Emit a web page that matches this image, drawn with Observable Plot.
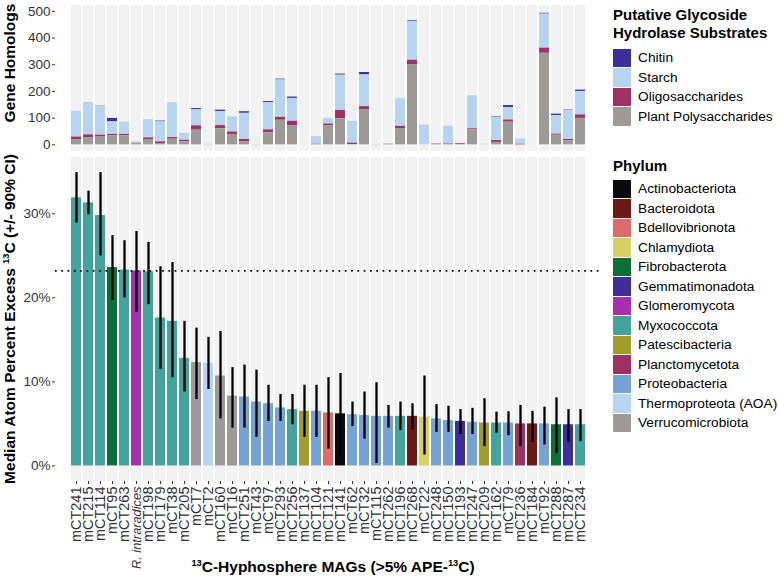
<!DOCTYPE html>
<html><head><meta charset="utf-8">
<script src="https://cdn.jsdelivr.net/npm/d3@7"></script>
<script src="https://cdn.jsdelivr.net/npm/@observablehq/plot@0.6"></script>
<style>
body{margin:0;background:#fff;}
#chart{position:relative;width:778px;height:577px;font-family:"Liberation Sans",Arial,Helvetica,sans-serif;color:#000;overflow:hidden}
.ytitle{position:absolute;transform:translate(-50%,-50%) rotate(-90deg);white-space:nowrap;font-weight:bold;font-size:15.5px;line-height:17px}
.xtitle{position:absolute;transform:translate(-50%,-50%);white-space:nowrap;font-weight:bold;font-size:15.5px;line-height:17px}
sup{font-size:0.6em;vertical-align:0.6em;line-height:0}
.lgtitle{position:absolute;font-weight:bold;font-size:15px;line-height:18px;white-space:nowrap}
.lgrow{position:absolute;height:19.5px;white-space:nowrap;font-size:13.7px}
.lgrow .sw{position:absolute;left:0;top:0.5px;width:18px;height:18.5px}
.lgrow .tx{position:absolute;left:25px;top:0;line-height:19.5px}
svg [aria-label="y-axis tick label"], svg [aria-label="x-axis tick label"]{fill:#333}
svg [aria-label="y-axis tick"], svg [aria-label="x-axis tick"]{stroke:#333}
</style></head><body><div id="chart"></div>
<script>
// ---------- data ----------
const mags = ["mCT241","mCT215","mCT114","mCT95","mCT263","R. intraradices","mCT198","mCT179","mCT38","mCT205","mCT7","mCT2","mCT160","mCT16","mCT251","mCT43","mCT97","mCT293","mCT256","mCT137","mCT104","mCT121","mCT141","mCT62","mCT32","mCT115","mCT262","mCT196","mCT268","mCT22","mCT248","mCT150","mCT193","mCT247","mCT209","mCT162","mCT79","mCT236","mCT184","mCT92","mCT288","mCT287","mCT234"];
const phylum = ["Myxococcota","Myxococcota","Myxococcota","Fibrobacterota","Myxococcota","Glomeromycota","Myxococcota","Myxococcota","Myxococcota","Myxococcota","Verrucomicrobiota","Thermoproteota (AOA)","Verrucomicrobiota","Verrucomicrobiota","Proteobacteria","Proteobacteria","Proteobacteria","Proteobacteria","Myxococcota","Patescibacteria","Proteobacteria","Bdellovibrionota","Actinobacteriota","Proteobacteria","Proteobacteria","Proteobacteria","Proteobacteria","Myxococcota","Bacteroidota","Chlamydiota","Proteobacteria","Proteobacteria","Gemmatimonadota","Proteobacteria","Patescibacteria","Myxococcota","Proteobacteria","Planctomycetota","Bacteroidota","Proteobacteria","Fibrobacterota","Gemmatimonadota","Myxococcota"];
// median atom percent excess 13C (%) and 90% CI
const ape    = [31.9,31.3,29.8,23.6,23.3,23.2,23.1,17.6,17.2,12.8,12.3,12.2,10.7,8.3,8.2,7.6,7.4,6.9,6.7,6.5,6.5,6.3,6.2,6.1,6.0,5.9,5.9,5.9,5.9,5.8,5.6,5.4,5.3,5.2,5.1,5.1,5.1,5.0,5.0,5.0,4.9,4.9,4.9];
const ciLow  = [28.9,29.9,25.0,19.7,20.0,18.3,19.2,11.5,10.5,8.8,7.9,9.1,5.6,4.5,4.5,3.4,5.3,5.3,4.9,3.4,3.4,2.0,1.2,4.7,3.2,0.3,4.5,4.2,4.3,1.3,4.0,4.0,3.75,3.75,2.3,3.9,3.6,2.3,2.8,2.5,1.5,2.8,2.9];
const ciHigh = [34.9,32.7,34.9,27.4,26.8,27.9,26.6,23.7,24.2,17.2,16.4,15.3,16.0,11.7,12.0,11.4,9.6,8.5,8.5,9.6,9.6,10.5,11.0,7.6,8.8,9.9,7.2,7.6,7.4,10.7,7.3,7.1,6.7,6.85,8.0,6.4,6.45,7.2,6.5,7.0,8.1,6.7,6.7];
// glycoside hydrolase gene homologs by substrate
const chitin = [0,1,1,13,0,0,0,3,0,1,4,0,5,0,6,0,4,3,5,0,0,0,4,0,9,0,0,0,3,0,0,0,0,0,0,2,7,0,0,3,5,2,5];
const starch = [97,120,109,47,46,5,68,75,131,23,61,2,53,57,98,1,102,140,86,0,29,21,132,82,119,1,3,104,146,74,0,67,0,124,2,87,47,20,0,128,70,108,88];
const oligo  = [9,10,7,5,5,0,6,6,6,6,16,0,12,11,8,0,11,11,16,0,1,7,31,5,11,0,0,8,18,0,0,2,3,4,0,7,8,2,0,19,4,5,13];
const plant  = [20,27,29,34,34,6,20,5,21,11,55,0,60,37,12,0,45,92,72,0,1,71,98,1,132,0,2,61,299,0,4,1,1,56,0,9,85,0,0,343,36,15,99];

const substrates = ["Chitin","Starch","Oligosaccharides","Plant Polysaccharides"];
const substrateColors = ["#3d2e9c","#b7d4f0","#9f3262","#9e9a97"];
const phyla = ["Actinobacteriota","Bacteroidota","Bdellovibrionota","Chlamydiota","Fibrobacterota","Gemmatimonadota","Glomeromycota","Myxococcota","Patescibacteria","Planctomycetota","Proteobacteria","Thermoproteota (AOA)","Verrucomicrobiota"];
const phylaColors = ["#0a0a0a","#6b1a14","#dc6b6b","#d9d064","#0e6e35","#3d2e9c","#a62fb0","#45a39d","#a29d2b","#9d3262","#76a3d6","#b7d4f0","#9e9a97"];
const topTicks = [0,100,200,300,400,500];
const apeTicks = [0,10,20,30];

// ---------- tables ----------
const apeTable = mags.map((m,i)=>({mag:m, phylum:phylum[i], ape:ape[i], lo:ciLow[i], hi:ciHigh[i]}));
const series = {"Chitin":chitin,"Starch":starch,"Oligosaccharides":oligo,"Plant Polysaccharides":plant};
const ghTable = [];
mags.forEach((m,i)=>{ for (const s of substrates) ghTable.push({mag:m, substrate:s, count:series[s][i]}); });
const refLine = ape[mags.indexOf("R. intraradices")];

const font = `"Liberation Sans", Arial, Helvetica, sans-serif`;
const xOpts = {domain: mags, paddingInner: 0.19, paddingOuter: 0.08};
const topDom = [-25, 522];
const botDom = [-1.85, 36.7];

const chart = document.getElementById("chart");

const topPlot = Plot.plot({
  width: 610, height: 152, marginLeft: 55, marginRight: 10, marginTop: 5, marginBottom: 1,
  style: {fontFamily: font, fontSize: "13px", background: "transparent", overflow: "visible"},
  x: {...xOpts, axis: null},
  y: {domain: topDom, axis: null},
  color: {domain: substrates, range: substrateColors},
  marks: [
    Plot.barY(mags, {x: d=>d, y1: topDom[0], y2: topDom[1], fill: "#f2f2f2"}),
    Plot.barY(ghTable, {x: "mag", y: "count", fill: "substrate", order: ["Plant Polysaccharides","Oligosaccharides","Starch","Chitin"]}),
    Plot.axisY({ticks: topTicks, tickSize: 3, tickPadding: 2, label: null, fontSize: 13.5})
  ]
});
topPlot.style.position = "absolute"; topPlot.style.left = "0px"; topPlot.style.top = "0px";
chart.appendChild(topPlot);

const botPlot = Plot.plot({
  width: 610, height: 427, marginLeft: 55, marginRight: 10, marginTop: 7, marginBottom: 96,
  style: {fontFamily: font, fontSize: "13px", background: "transparent", overflow: "visible"},
  x: {...xOpts},
  y: {domain: botDom},
  color: {domain: phyla, range: phylaColors},
  marks: [
    Plot.barY(mags, {x: d=>d, y1: botDom[0], y2: botDom[1], fill: "#f2f2f2"}),
    Plot.barY(apeTable, {x: "mag", y: "ape", fill: "phylum"}),
    Plot.ruleY([refLine], {stroke: "#000", strokeWidth: 1.7, strokeDasharray: "1.7,4.6"}),
    Plot.ruleX(apeTable, {x: "mag", y1: "lo", y2: "hi", stroke: "#000", strokeWidth: 2.3}),
    Plot.axisY({ticks: apeTicks, tickFormat: d => d + "%", tickSize: 3, tickPadding: 2, label: null, fontSize: 13.5}),
    Plot.axisX({tickRotate: -90, tickSize: 3, tickPadding: 2, label: null, fontSize: 14.5})
  ]
});
botPlot.style.position = "absolute"; botPlot.style.left = "0px"; botPlot.style.top = "150px";
chart.appendChild(botPlot);
botPlot.querySelectorAll("text").forEach(t => {
  if (t.textContent === "R. intraradices") { t.style.fontStyle = "italic"; t.style.fontSize = "12.8px"; }
});

// ---------- titles ----------
function addDiv(cls, html, left, top) {
  const d = document.createElement("div"); d.className = cls; d.innerHTML = html;
  d.style.left = left + "px"; d.style.top = top + "px"; chart.appendChild(d); return d;
}
addDiv("ytitle", "Gene Homologs", 9, 62.5);
addDiv("ytitle", "Median Atom Percent Excess <sup>13</sup>C (+/- 90% CI)", 9, 319);
addDiv("xtitle", "<sup>13</sup>C-Hyphosphere MAGs (&gt;5% APE-<sup>13</sup>C)", 333, 566);

// ---------- legends ----------
function legend(titleLines, names, colors, x, titleTop, rowsTop) {
  addDiv("lgtitle", titleLines.join("<br>"), x, titleTop);
  names.forEach((n,i) => {
    addDiv("lgrow", `<div class="sw" style="background:${colors[i]}"></div><div class="tx">${n}</div>`, x, rowsTop + i*19.5);
  });
}
legend(["Putative Glycoside","Hydrolase Substrates"], substrates, substrateColors, 613, 6, 48);
legend(["Phylum"], phyla, phylaColors, 613, 157, 179);
</script></body></html>
